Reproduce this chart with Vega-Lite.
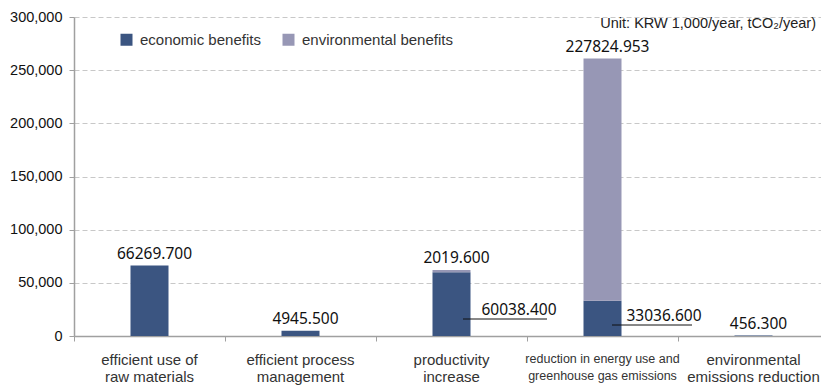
{
  "$schema": "https://vega.github.io/schema/vega-lite/v6.json",
  "autosize": {"type": "none"},
  "width": 747,
  "height": 319,
  "padding": {"left": 74, "top": 17, "right": 0, "bottom": 54},
  "background": "white",
  "encoding": {
    "x": {
      "field": "category",
      "type": "nominal",
      "sort": null,
      "scale": {"domain": ["efficient use of raw materials", "efficient process management", "productivity increase", "reduction in energy use and greenhouse gas emissions", "environmental emissions reduction"], "range": [0, 755], "paddingInner": 0, "paddingOuter": 0},
      "axis": {
        "title": null,
        "labelAngle": 0,
        "bandPosition": 0,
        "tickSize": 5,
        "tickColor": "#a0a0a0",
        "domainColor": "#a0a0a0",
        "domainWidth": 1.5,
        "labelFont": "Liberation Sans",
        "labelFontSize": {"condition": {"test": "datum.value == 'reduction in energy use and greenhouse gas emissions'", "value": 12.5}, "value": 15},
        "labelColor": "#333333",
        "labelLineHeight": 17,
        "labelPadding": 11,
        "labelExpr": "datum.value == 'efficient use of raw materials' ? ['efficient use of', 'raw materials'] : datum.value == 'efficient process management' ? ['efficient process', 'management'] : datum.value == 'productivity increase' ? ['productivity', 'increase'] : datum.value == 'reduction in energy use and greenhouse gas emissions' ? ['reduction in energy use and', 'greenhouse gas emissions'] : ['environmental', 'emissions reduction']"
      }
    }
  },
  "layer": [
    {
      "data": {
        "values": [
          {"category": "efficient use of raw materials", "series": "economic benefits", "value": 66269.7},
          {"category": "efficient process management", "series": "economic benefits", "value": 4945.5},
          {"category": "productivity increase", "series": "economic benefits", "value": 60038.4},
          {"category": "productivity increase", "series": "environmental benefits", "value": 2019.6},
          {"category": "reduction in energy use and greenhouse gas emissions", "series": "economic benefits", "value": 33036.6},
          {"category": "reduction in energy use and greenhouse gas emissions", "series": "environmental benefits", "value": 227824.953},
          {"category": "environmental emissions reduction", "series": "economic benefits", "value": 456.3}
        ]
      },
      "layer": [
        {
          "mark": {"type": "bar", "width": 38},
          "encoding": {
            "y": {
              "field": "value",
              "type": "quantitative",
              "stack": "zero",
              "scale": {"domain": [0, 300000]},
              "axis": {
                "title": null,
                "values": [0, 50000, 100000, 150000, 200000, 250000, 300000],
                "format": ",.0f",
                "grid": true,
                "gridDash": [5, 3],
                "gridColor": "#c8c8c8",
                "domainColor": "#a0a0a0",
                "domainWidth": 1.5,
                "tickColor": "#a0a0a0",
                "tickSize": 5,
                "labelPadding": 7,
                "labelFont": "Liberation Sans",
                "labelFontSize": 14.5,
                "labelColor": "#111111"
              }
            },
            "order": {"field": "series", "sort": "ascending"},
            "color": {
              "field": "series",
              "type": "nominal",
              "scale": {"domain": ["economic benefits", "environmental benefits"], "range": ["#3b5581", "#9797b5"]},
              "legend": {
                "title": null,
                "orient": "none",
                "legendX": 45,
                "legendY": 15,
                "direction": "horizontal",
                "symbolType": "square",
                "symbolSize": 144,
                "symbolStrokeWidth": 0,
                "labelFont": "Liberation Sans",
                "labelFontSize": 15,
                "labelColor": "#333333",
                "labelOffset": 6,
                "columnPadding": 20
              }
            }
          }
        },
        {
          "mark": {"type": "text", "font": "Noto Sans", "fontSize": 15.5, "color": "#111111", "baseline": "alphabetic", "dy": -7, "dx": 5},
          "encoding": {
            "y": {"field": "value", "type": "quantitative", "stack": "zero"},
            "detail": {"field": "series", "type": "nominal"},
            "order": {"field": "series", "sort": "ascending"},
            "text": {
              "field": "value",
              "type": "quantitative",
              "format": ".3f",
              "condition": {"test": "datum.series == 'economic benefits' && (datum.category == 'productivity increase' || datum.category == 'reduction in energy use and greenhouse gas emissions')", "value": ""}
            }
          }
        },
        {
          "transform": [{"filter": "datum.series == 'economic benefits' && datum.category == 'productivity increase'"}],
          "layer": [
            {
              "mark": {"type": "rule", "color": "#111111", "strokeWidth": 1, "xOffset": 11.5, "x2Offset": 95.5, "yOffset": -17},
              "encoding": {
                "x2": {"field": "category"},
                "y": {"datum": 0}
              }
            },
            {
              "mark": {"type": "text", "font": "Noto Sans", "fontSize": 15.5, "color": "#111111", "baseline": "middle", "dx": 67.5, "dy": -26},
              "encoding": {
                "y": {"datum": 0},
                "text": {"field": "value", "type": "quantitative", "format": ".3f"}
              }
            }
          ]
        },
        {
          "transform": [{"filter": "datum.series == 'economic benefits' && datum.category == 'reduction in energy use and greenhouse gas emissions'"}],
          "layer": [
            {
              "mark": {"type": "rule", "color": "#111111", "strokeWidth": 1, "xOffset": 9.5, "x2Offset": 89.5, "yOffset": -11},
              "encoding": {
                "x2": {"field": "category"},
                "y": {"datum": 0}
              }
            },
            {
              "mark": {"type": "text", "font": "Noto Sans", "fontSize": 15.5, "color": "#111111", "baseline": "middle", "dx": 61.5, "dy": -20.5},
              "encoding": {
                "y": {"datum": 0},
                "text": {"field": "value", "type": "quantitative", "format": ".3f"}
              }
            }
          ]
        }
      ]
    },
    {
      "data": {"values": [{"note": "Unit: KRW 1,000/year, tCO₂/year)"}]},
      "mark": {"type": "text", "font": "Liberation Sans", "fontSize": 14.5, "color": "#222222", "align": "right", "baseline": "alphabetic", "dx": 62.5, "dy": 11},
      "encoding": {
        "x": {"datum": "environmental emissions reduction", "type": "nominal"},
        "y": {"datum": 300000, "type": "quantitative"},
        "text": {"field": "note", "type": "nominal"}
      }
    }
  ],
  "config": {"view": {"stroke": null}}
}
